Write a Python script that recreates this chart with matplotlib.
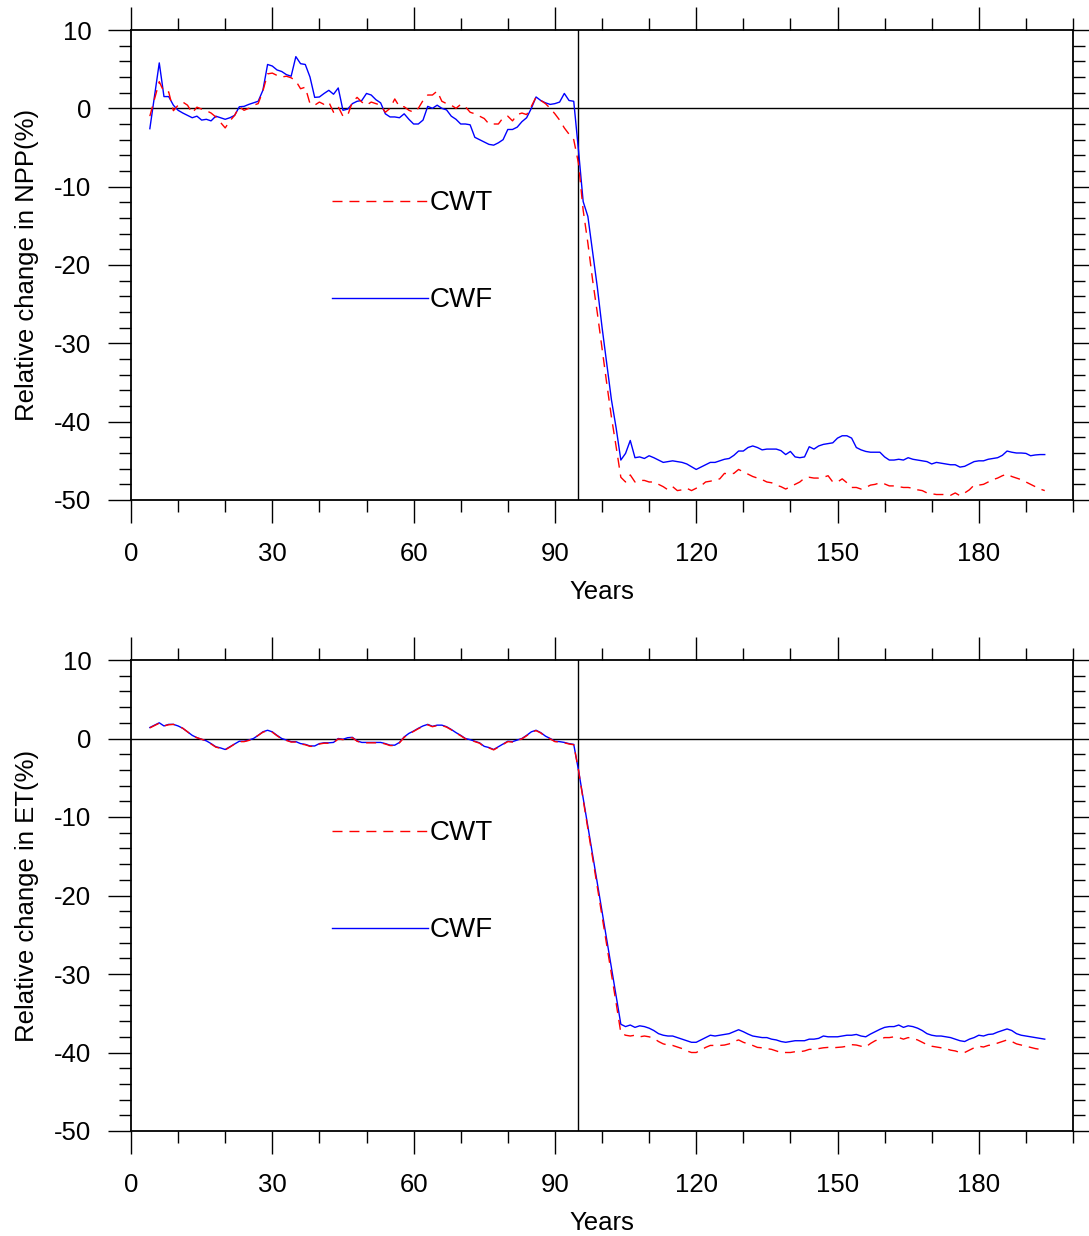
import numpy as np
import matplotlib
matplotlib.use("Agg")
import matplotlib.pyplot as plt
from matplotlib.ticker import MultipleLocator

plt.rcParams['font.family'] = ['Liberation Sans', 'DejaVu Sans']
plt.rcParams['axes.unicode_minus'] = False

years = np.arange(4, 195)

npp_cwf = [
    -2.6, 1.6, 5.8, 1.5, 1.5, 0.4, -0.25, -0.6, -0.9, -1.2,
    -1.0, -1.5, -1.4, -1.6, -1.0, -1.2, -1.4, -1.2, -0.9, 0.2,
    0.25, 0.5, 0.7, 0.9, 2.3, 5.6, 5.4, 4.9, 4.7, 4.3,
    4.1, 6.6, 5.7, 5.6, 4.0, 1.4, 1.45, 1.9, 2.3, 1.8,
    2.6, -0.25, -0.1, 0.6, 0.9, 1.0, 1.9, 1.7, 1.1, 0.7,
    -0.7, -1.1, -1.1, -1.2, -0.7, -1.4, -2.0, -2.0, -1.5, 0.25,
    0.0, 0.4, 0.0, -0.2, -1.0, -1.4, -2.0, -2.0, -2.1, -3.7,
    -4.0, -4.3, -4.6, -4.7, -4.4, -4.0, -2.7, -2.7, -2.4, -1.7,
    -1.2, 0.0, 1.45, 1.0, 0.7, 0.5, 0.6, 0.8, 1.9, 1.0,
    0.9, -5.3, -11.9, -13.8, -18.3, -22.8, -27.9, -32.5, -37.2, -40.8,
    -44.9, -44.05, -42.4, -44.6, -44.5, -44.7, -44.35, -44.6, -44.9, -45.2,
    -45.1, -45.0, -45.1, -45.2, -45.4, -45.75, -46.1, -45.8, -45.5, -45.2,
    -45.2, -45.0, -44.8, -44.7, -44.3, -43.75, -43.75, -43.3, -43.1, -43.3,
    -43.6, -43.5, -43.5, -43.5, -43.7, -44.2, -43.8, -44.5, -44.6, -44.5,
    -43.2, -43.5, -43.1, -42.9, -42.8, -42.7, -42.1, -41.8, -41.8, -42.1,
    -43.3, -43.6, -43.8, -43.9, -43.9, -43.9, -44.5, -44.9, -44.9, -44.8,
    -44.9, -44.6, -44.8, -44.9, -45.0, -45.1, -45.4, -45.2, -45.3, -45.4,
    -45.5, -45.5, -45.8, -45.7, -45.4, -45.1, -45.0, -45.0, -44.8, -44.7,
    -44.6, -44.3, -43.75, -43.9, -44.0, -44.0, -44.05, -44.35, -44.25, -44.2,
    -44.2,
]

npp_cwt = [
    -1.0, 1.2, 3.4, 2.1, 2.1, -0.3, 0.4, 0.8, 0.4, -0.6,
    0.15, -0.1, -0.3, -0.6, -1.1, -1.8, -2.5, -1.6, -0.9, 0.2,
    -0.25, 0.0, 0.4, 0.6, 2.2, 4.4, 4.5, 4.2, 4.0, 4.1,
    3.9, 3.5, 2.5, 2.7, 0.6, 0.4, 0.8, 0.5, 0.8, -0.5,
    0.2, -1.0, -0.9, 0.8, 1.4, 0.8, 0.4, 0.8, 0.6, 0.4,
    -0.5, 0.0, 1.2, 0.2, 0.2, -0.25, -0.5, 0.0, 1.0, 1.7,
    1.7, 2.2, 0.9, 0.6, 0.4, 0.0, 0.5, 0.2, -0.5, -0.7,
    -1.0, -1.3, -2.0, -2.0, -2.0, -1.2, -1.0, -1.6, -0.8, -0.6,
    -0.8, 0.25, 1.45, 1.0, 0.6, 0.0, -0.7, -1.5, -2.5, -3.3,
    -4.0, -7.0, -13.0, -17.2, -21.9, -26.1, -30.6, -35.1, -39.4, -43.2,
    -47.1, -47.7, -46.8, -47.7, -47.5, -47.5, -47.7, -47.7, -48.0, -48.3,
    -48.7, -48.3, -48.8, -48.7, -48.5, -48.8, -48.5, -48.2, -47.7, -47.6,
    -47.45, -47.3, -46.6, -46.7, -46.6, -46.1, -46.4, -46.7, -47.0, -47.2,
    -47.4, -47.7, -47.8, -48.1, -48.3, -48.6, -48.3, -48.0, -47.7, -47.2,
    -47.1, -47.2, -47.2, -47.1, -46.9, -47.7, -47.7, -47.3, -47.8, -48.4,
    -48.4, -48.6, -48.4, -48.1, -48.0, -47.8, -47.95, -48.2, -48.2, -48.3,
    -48.4, -48.4, -48.5, -48.7, -48.8, -49.1, -49.2, -49.3, -49.3, -49.3,
    -49.4, -49.1, -49.45, -49.1, -48.7, -48.1, -48.1, -48.0, -47.7, -47.4,
    -47.2, -46.9, -46.7, -47.0, -47.2, -47.4, -47.7, -48.0, -48.3, -48.6,
    -48.8,
]

et_cwf = [
    1.4, 1.7, 2.0, 1.6, 1.8, 1.8, 1.6, 1.3, 0.85, 0.4,
    0.1, -0.1, -0.3, -0.65, -1.05, -1.2, -1.4, -1.05, -0.7, -0.35,
    -0.35, -0.2, 0.0, 0.4, 0.85, 1.05, 0.85, 0.4, 0.0, -0.2,
    -0.4, -0.4, -0.65, -0.75, -0.95, -0.95, -0.65, -0.55, -0.55, -0.5,
    0.0, -0.1, 0.1, 0.15, -0.3, -0.5, -0.5, -0.5, -0.5, -0.5,
    -0.65, -0.85, -0.85, -0.5, 0.2, 0.65, 0.95, 1.3, 1.6, 1.8,
    1.55, 1.7, 1.7, 1.5, 1.15, 0.75, 0.4, 0.0, -0.15, -0.35,
    -0.55, -1.0, -1.15, -1.4, -1.05, -0.7, -0.35, -0.4, -0.2, 0.0,
    0.4, 0.85, 1.05, 0.75, 0.3, 0.0, -0.35, -0.4, -0.5, -0.65,
    -0.75, -4.0, -7.6, -11.2, -14.8, -18.4, -22.0, -25.6, -29.2, -32.8,
    -36.4, -36.7, -36.5, -36.8, -36.6, -36.7, -36.9, -37.2, -37.6, -37.8,
    -37.9, -37.9, -38.1, -38.3, -38.5, -38.7, -38.7, -38.4, -38.1, -37.8,
    -37.9, -37.8, -37.7, -37.6, -37.35, -37.1, -37.35, -37.65, -37.9, -38.0,
    -38.1, -38.1, -38.3, -38.4, -38.6, -38.7, -38.6, -38.5, -38.5, -38.5,
    -38.3, -38.3, -38.2, -37.9, -38.0, -38.0, -38.0, -37.9, -37.8, -37.8,
    -37.7, -37.9, -38.0, -37.65, -37.35, -37.05, -36.8, -36.7, -36.7, -36.5,
    -36.8, -36.6, -36.7, -36.9, -37.2, -37.6, -37.8, -37.9, -37.9, -38.0,
    -38.1, -38.3, -38.5, -38.6, -38.3, -38.1, -37.8, -37.9, -37.7, -37.65,
    -37.4, -37.2, -37.0, -37.2, -37.6, -37.8, -37.9, -38.0, -38.1, -38.2,
    -38.3,
]

et_cwt = [
    1.35, 1.65, 1.95, 1.6, 1.75, 1.8, 1.6, 1.3, 0.85, 0.4,
    0.1, -0.1, -0.3, -0.7, -1.1, -1.25, -1.45, -1.1, -0.7, -0.4,
    -0.4, -0.25, 0.0, 0.4, 0.8, 1.0, 0.8, 0.35, -0.05, -0.25,
    -0.45, -0.45, -0.7, -0.8, -1.0, -1.0, -0.7, -0.6, -0.6, -0.55,
    -0.05, -0.15, 0.05, 0.1, -0.35, -0.55, -0.55, -0.55, -0.55, -0.55,
    -0.7, -0.9, -0.9, -0.55, 0.15, 0.6, 0.9, 1.25, 1.55, 1.75,
    1.5, 1.65, 1.65, 1.45, 1.1, 0.7, 0.35, -0.05, -0.2, -0.4,
    -0.6, -1.05, -1.2, -1.45, -1.1, -0.75, -0.4, -0.45, -0.25, -0.05,
    0.35, 0.8, 1.0, 0.7, 0.25, -0.05, -0.4, -0.45, -0.55, -0.7,
    -0.8, -4.0, -7.8, -11.5, -15.2, -18.9, -22.6, -26.3, -30.0, -33.7,
    -37.5, -37.8, -37.9, -37.8, -38.0, -37.9, -38.0, -38.2, -38.6, -38.9,
    -39.05, -39.1, -39.3, -39.5, -39.8, -40.0, -40.0, -39.7, -39.35, -39.1,
    -39.1, -39.1, -39.05, -38.9, -38.6, -38.4, -38.7, -38.9, -39.1, -39.35,
    -39.4, -39.5, -39.6, -39.8, -40.0, -40.0, -40.0, -39.9, -39.9, -39.8,
    -39.6, -39.6, -39.5, -39.4, -39.35, -39.4, -39.35, -39.3, -39.2, -39.0,
    -39.05, -39.2, -39.3, -38.85, -38.5, -38.3, -38.1, -38.1, -38.0, -38.1,
    -38.3, -38.1, -38.2, -38.4, -38.7, -39.0, -39.2, -39.3, -39.4, -39.5,
    -39.7, -39.8, -40.0, -40.0, -39.7, -39.4, -39.2, -39.3, -39.1, -39.0,
    -38.8, -38.6, -38.4, -38.6, -38.9, -39.05, -39.2, -39.35, -39.5, -39.6,
    -39.8,
]

series_names = ["CWT", "CWF"]
ylabels = ["Relative change in NPP(%)", "Relative change in ET(%)"]
xlabel = "Years"
xticks = [0, 30, 60, 90, 120, 150, 180]
yticks = [10, 0, -10, -20, -30, -40, -50]
break_year = 95

W, H = 1089, 1236
fig = plt.figure(figsize=(W / 100, H / 100), dpi=100)

def frac_rect(l, t, r, b):
    return [l / W, 1 - b / H, (r - l) / W, (b - t) / H]

ax1 = fig.add_axes(frac_rect(131, 30, 1073, 500))
ax2 = fig.add_axes(frac_rect(131, 660, 1073, 1131))

FS = 18.5
dash = (7.2, 5.0)

for ax, cwt, cwf, ylab in [(ax1, npp_cwt, npp_cwf, ylabels[0]),
                           (ax2, et_cwt, et_cwf, ylabels[1])]:
    ax.axhline(0, color='black', lw=1.0, zorder=1)
    ax.axvline(break_year, color='black', lw=1.0, zorder=1)
    ax.plot(years, cwt, color='red', lw=1.0, dashes=dash, zorder=3)
    ax.plot(years, cwf, color='blue', lw=1.0, zorder=2)
    ax.set_xlim(0, 200)
    ax.set_ylim(-50, 10)
    ax.set_xticks(xticks)
    ax.set_yticks(yticks)
    ax.xaxis.set_minor_locator(MultipleLocator(10))
    ax.yaxis.set_minor_locator(MultipleLocator(2))
    ax.tick_params(which='both', direction='out', top=True, right=True,
                   labelsize=FS, width=1.0)
    ax.tick_params(which='major', length=16.5)
    ax.tick_params(which='minor', length=8.5)
    ax.tick_params(axis='x', which='major', pad=14)
    ax.tick_params(axis='y', which='major', pad=12)
    for s in ax.spines.values():
        s.set_linewidth(1.3)
    ax.set_xlabel(xlabel, fontsize=FS, labelpad=10)
    ax.set_ylabel(ylab, fontsize=FS, labelpad=11)

    # in-plot legend
    x0, x1, xt = 0.2134, 0.3153, 0.3174
    for name, yy, kw in [(series_names[0], 0.636, dict(color='red', dashes=dash)),
                         (series_names[1], 0.430, dict(color='blue'))]:
        ax.plot([x0, x1], [yy, yy], transform=ax.transAxes, lw=1.0, **kw)
        ax.text(xt, yy - 0.004, name, transform=ax.transAxes, fontsize=20,
                va='center', ha='left')

fig.savefig("out.png", dpi=100)
